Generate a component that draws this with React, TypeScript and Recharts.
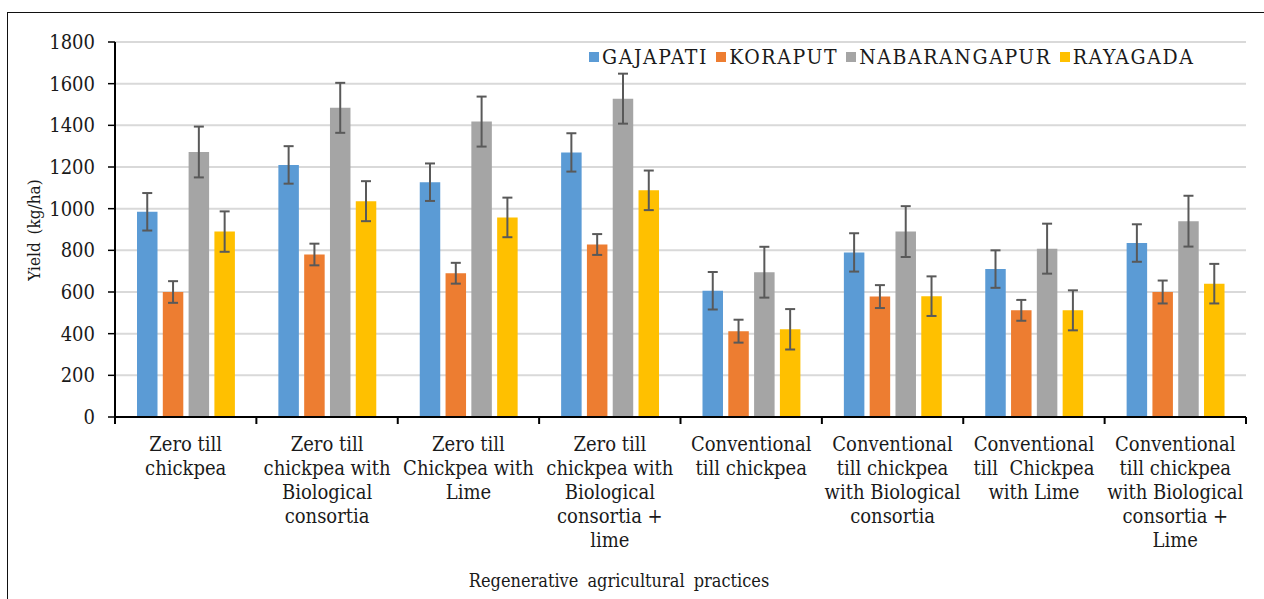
import React from 'react';
import { BarChart, Bar, XAxis, YAxis, CartesianGrid, ErrorBar, Legend } from 'recharts';

const categories = [
  'Zero till\nchickpea',
  'Zero till\nchickpea with\nBiological\nconsortia',
  'Zero till\nChickpea with\nLime',
  'Zero till\nchickpea with\nBiological\nconsortia +\nlime',
  'Conventional\ntill chickpea',
  'Conventional\ntill chickpea\nwith Biological\nconsortia',
  'Conventional\ntill  Chickpea\nwith Lime',
  'Conventional\ntill chickpea\nwith Biological\nconsortia +\nLime',
];
const gajapati = [985, 1210, 1127, 1270, 606, 790, 710, 835];
const gajapatiErr = [90, 90, 90, 92, 90, 92, 90, 90];
const koraput = [600, 780, 690, 828, 412, 578, 512, 600];
const koraputErr = [52, 52, 50, 50, 55, 55, 50, 55];
const nabarangapur = [1272, 1484, 1418, 1528, 695, 890, 808, 940];
const nabarangapurErr = [122, 120, 120, 120, 122, 122, 120, 122];
const rayagada = [890, 1036, 958, 1088, 421, 580, 512, 640];
const rayagadaErr = [97, 96, 95, 95, 97, 95, 96, 95];

const yTicks = [0, 200, 400, 600, 800, 1000, 1200, 1400, 1600, 1800];

const seriesNames = ['GAJAPATI', 'KORAPUT', 'NABARANGAPUR', 'RAYAGADA'];
const seriesColors = ['#5B9BD5', '#ED7D31', '#A5A5A5', '#FFC000'];

const FONT = "'DejaVu Serif Condensed', 'DejaVu Serif', serif";
const STRETCH = 'condensed';

const data = categories.map((c, i) => ({
  name: c,
  GAJAPATI: gajapati[i],
  GAJAPATI_err: gajapatiErr[i],
  KORAPUT: koraput[i],
  KORAPUT_err: koraputErr[i],
  NABARANGAPUR: nabarangapur[i],
  NABARANGAPUR_err: nabarangapurErr[i],
  RAYAGADA: rayagada[i],
  RAYAGADA_err: rayagadaErr[i],
}));

const CategoryTick = (props: any) => {
  const { x, y, payload, index } = props;
  const half = payload && payload.offset ? payload.offset : 70.7;
  const lines = String(payload.value).split('\n');
  const isLast = index === categories.length - 1;
  return (
    <g>
      <line x1={x - half} x2={x - half} y1={y} y2={y + 7} stroke="#000" strokeWidth={2} />
      {isLast && <line x1={x + half} x2={x + half} y1={y} y2={y + 7} stroke="#000" strokeWidth={2} />}
      <text x={x} y={y + 34} textAnchor="middle" style={{ fontFamily: FONT, fontStretch: STRETCH, fontSize: 20, whiteSpace: 'pre' }} fill="#1a1a1a">
        {lines.map((l, i) => (
          <tspan key={i} x={x} dy={i === 0 ? 0 : 24}>{l}</tspan>
        ))}
      </text>
    </g>
  );
};

const renderLegend = () => (
  <div style={{ display: 'flex', alignItems: 'center', fontFamily: FONT, fontStretch: STRETCH, fontSize: 21, color: '#1a1a1a', letterSpacing: 1.6 }}>
    {seriesNames.map((n, i) => (
      <div key={n} style={{ display: 'flex', alignItems: 'center', marginRight: 8 }}>
        <div style={{ width: 10, height: 10, background: seriesColors[i], marginRight: 3 }} />
        <span style={{ whiteSpace: 'nowrap' }}>{n}</span>
      </div>
    ))}
  </div>
);

export default function App() {
  return (
    <div style={{ position: 'absolute', left: 0, top: 0, width: 1264, height: 599, overflow: 'hidden', background: '#fff', fontFamily: FONT }}>
      <div style={{ position: 'absolute', left: 7, top: 12, width: 1300, height: 700, border: '1px solid #111' }} />
      <div style={{ position: 'absolute', left: 0, top: 0 }}>
        <BarChart
          width={1264}
          height={599}
          data={data}
          margin={{ top: 42, right: 18, bottom: 32, left: 55 }}
          barSize={20.5}
          barGap={5.3}
          style={{ fontFamily: FONT }}
        >
          <CartesianGrid vertical={false} stroke="#d9d9d9" strokeWidth={2} />
          <XAxis
            dataKey="name"
            height={150}
            interval={0}
            tickSize={0}
            tickMargin={0}
            tickLine={false}
            axisLine={{ stroke: '#000', strokeWidth: 2 }}
            tick={<CategoryTick />}
            label={{
              content: () => (
                <text x={619} y={587} textAnchor="middle" fill="#1a1a1a" style={{ fontFamily: FONT, fontStretch: STRETCH, fontSize: 18, wordSpacing: 4 }}>
                  Regenerative agricultural practices
                </text>
              ),
            }}
          />
          <YAxis
            width={60}
            domain={[0, 1800]}
            ticks={yTicks}
            interval={0}
            tickSize={7}
            tickMargin={13}
            axisLine={{ stroke: '#000', strokeWidth: 2 }}
            tickLine={{ stroke: '#000', strokeWidth: 1.5 }}
            tick={{ fontSize: 20, fill: '#1a1a1a', style: { fontFamily: FONT, fontStretch: STRETCH } }}
            label={{
              content: () => (
                <text transform="translate(40,230) rotate(-90)" textAnchor="middle" fill="#1a1a1a" style={{ fontFamily: FONT, fontStretch: STRETCH, fontSize: 17, wordSpacing: 3 }}>
                  Yield (kg/ha)
                </text>
              ),
            }}
          />
          <Legend
            verticalAlign="middle"
            align="center"
            layout="horizontal"
            content={renderLegend}
            wrapperStyle={{ position: 'absolute', top: 45, left: 589, width: 'auto' }}
          />
          {seriesNames.map((n, i) => (
            <Bar key={n} dataKey={n} fill={seriesColors[i]} isAnimationActive={false}>
              <ErrorBar dataKey={n + '_err'} width={5} stroke="#595959" strokeWidth={2} isAnimationActive={false} />
            </Bar>
          ))}
        </BarChart>
      </div>
    </div>
  );
}
